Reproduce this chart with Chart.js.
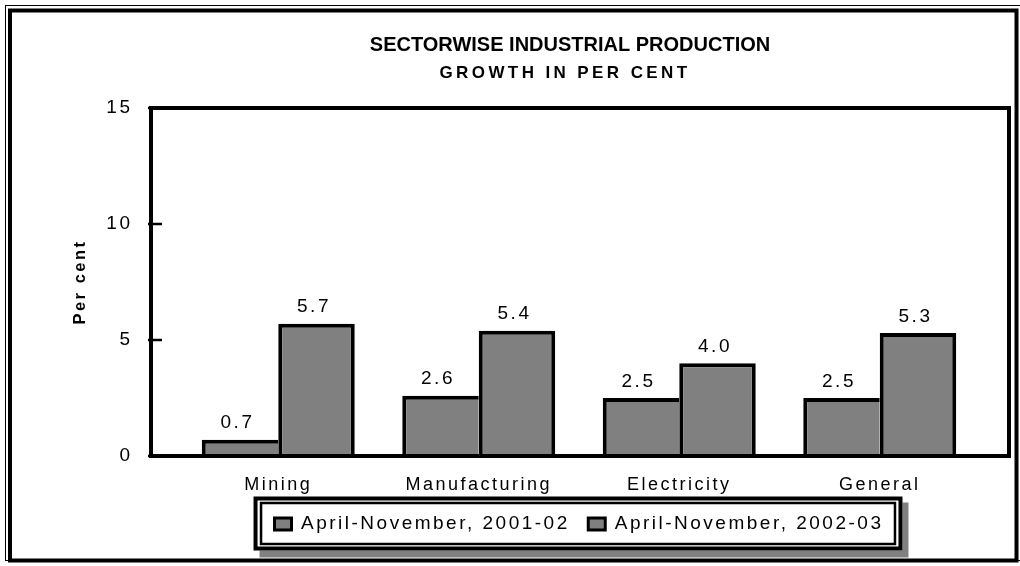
<!DOCTYPE html>
<html>
<head>
<meta charset="utf-8">
<title>Sectorwise Industrial Production</title>
<script src="https://cdn.jsdelivr.net/npm/chart.js@4.4.1/dist/chart.umd.min.js"></script>
<style>
  html, body { margin: 0; padding: 0; background: #fff; }
  #chart { display: block; }
</style>
</head>
<body>
<canvas id="chart" width="1020" height="566"></canvas>
<script>
const categories = ['Mining', 'Manufacturing', 'Electricity', 'General'];
const seriesLabels = ['April-November, 2001-02', 'April-November, 2002-03'];
const growth2001 = [0.7, 2.6, 2.5, 2.5];
const growth2002 = [5.7, 5.4, 4.0, 5.3];
const yTicks = [0, 5, 10, 15];

const titleText = 'SECTORWISE INDUSTRIAL PRODUCTION';
const subtitleText = 'GROWTH IN PER CENT';

const SANS = '"Liberation Sans", Arial, sans-serif';
const SPACING = '2.5px';

Chart.defaults.font.family = SANS;
Chart.defaults.color = '#000';

// title and subtitle get their own spacing and a small nudge left
const textStyles = {
	[titleText]: { spacing: '0px', shift: -9 },
	[subtitleText]: { spacing: '3.4px', shift: -14 }
};

// the old chart has wide letter spacing everywhere
const spacing = {
	id: 'spacing',
	beforeLayout(chart) { chart.ctx.letterSpacing = SPACING; },
	beforeDraw(chart) { chart.ctx.letterSpacing = SPACING; },
	afterLayout(chart) {
		chart.boxes.forEach(box => {
			const style = box.options && textStyles[box.options.text];
			if (!style || box._styled) return;
			const draw = box.draw;
			box.draw = function (area) {
				const ctx = this.ctx;
				ctx.save();
				ctx.letterSpacing = style.spacing;
				ctx.translate(style.shift, 0);
				draw.call(this, area);
				ctx.restore();
			};
			box._styled = true;
		});
	}
};

// page frame and legend frame with its shadow
const frames = {
	id: 'frames',
	beforeDraw(chart) {
		const { ctx, width, height } = chart;
		ctx.save();
		ctx.fillStyle = '#fff';
		ctx.fillRect(0, 0, width, height);
		ctx.strokeStyle = '#000';
		ctx.lineWidth = 1;
		ctx.strokeRect(5.5, 5.5, width + 10, height - 11);
		ctx.lineWidth = 4;
		ctx.strokeRect(10, 10.5, 1006.5, 550);

		const boxes = chart.legend && chart.legend.legendHitBoxes;
		if (boxes && boxes.length) {
			const first = boxes[0];
			const last = boxes[boxes.length - 1];
			const L = first.left - 21;
			const R = last.left + last.width + 19;
			const T = first.top - 18;
			const B = first.top + first.height + 17;
			ctx.fillStyle = '#808080';
			ctx.fillRect(L + 6, T + 6, R - L, B - T + 1);
			ctx.fillStyle = '#fff';
			ctx.fillRect(L, T, R - L, B - T);
			ctx.lineWidth = 4;
			ctx.strokeRect(L + 2, T + 2, R - L - 4, B - T - 4);
			ctx.lineWidth = 2.5;
			ctx.strokeRect(L + 7.5, T + 6.5, R - L - 15, B - T - 13);
		}
		ctx.restore();
	}
};

// plot box is wider than the category band, plus the short y tick marks
const plotBox = {
	id: 'plotBox',
	afterDatasetsDraw(chart) {
		const { ctx, chartArea: a, scales: { y } } = chart;
		const left = a.left - 27;
		const right = a.right + 29;
		ctx.save();
		ctx.strokeStyle = '#000';
		ctx.lineWidth = 4;
		ctx.strokeRect(left, a.top, right - left, a.bottom - a.top);
		ctx.lineWidth = 2.5;
		y.ticks.forEach(t => {
			const py = y.getPixelForValue(t.value);
			ctx.beginPath();
			ctx.moveTo(left - 3, py);
			ctx.lineTo(left + 11, py);
			ctx.stroke();
		});

		// value labels above bars
		ctx.font = '19px ' + SANS;
		ctx.fillStyle = '#000';
		ctx.textAlign = 'center';
		ctx.textBaseline = 'middle';
		chart.data.datasets.forEach((ds, i) => {
			chart.getDatasetMeta(i).data.forEach((bar, j) => {
				ctx.fillText(ds.data[j].toFixed(1), bar.x - 2.5, bar.y - 16.5);
			});
		});
		ctx.restore();
	}
};

const defaultLabels = Chart.defaults.plugins.legend.labels.generateLabels;

new Chart(document.getElementById('chart'), {
	type: 'bar',
	data: {
		labels: categories,
		datasets: [
			{
				label: seriesLabels[0],
				data: growth2001,
				backgroundColor: '#808080',
				borderColor: '#000',
				borderWidth: { top: 4, left: 4, right: 0, bottom: 0 },
				borderSkipped: false
			},
			{
				label: seriesLabels[1],
				data: growth2002,
				backgroundColor: '#808080',
				borderColor: '#000',
				borderWidth: { top: 4, left: 4, right: 4, bottom: 0 },
				borderSkipped: false
			}
		]
	},
	options: {
		responsive: false,
		devicePixelRatio: 1,
		animation: false,
		categoryPercentage: 0.763,
		barPercentage: 1.0,
		layout: { padding: { left: 0, right: 40, top: 0, bottom: 22.5 } },
		scales: {
			x: {
				grid: { display: false, drawTicks: false },
				border: { display: false },
				ticks: { padding: 18.7, font: { size: 18 } },
				afterFit: (s) => { s.height = 40; }
			},
			y: {
				min: 0,
				max: 15,
				grid: { display: false, drawTicks: false },
				border: { display: false },
				ticks: { padding: 45.5, font: { size: 19 } },
				afterBuildTicks: (s) => { s.ticks = yTicks.map(v => ({ value: v })); },
				afterFit: (s) => { s.width = 178; },
				title: {
					display: true,
					text: 'Per cent',
					font: { size: 16.5, weight: 'bold' },
					padding: { top: 70.1, bottom: 0 }
				}
			}
		},
		plugins: {
			title: {
				display: true,
				text: titleText,
				fullSize: false,
				font: { size: 20, weight: 'bold' },
				padding: { top: 33, bottom: 5.8 }
			},
			subtitle: {
				display: true,
				text: subtitleText,
				fullSize: false,
				font: { size: 17, weight: 'bold' },
				padding: { top: 0, bottom: 24.8 }
			},
			legend: {
				position: 'bottom',
				fullSize: false,
				labels: {
					boxWidth: 17,
					boxHeight: 12,
					padding: 18.5,
					font: { size: 19 },
					color: '#000',
					generateLabels: (chart) => defaultLabels(chart).map(l => ({ ...l, lineWidth: 3 }))
				}
			},
			tooltip: { enabled: false }
		}
	},
	plugins: [spacing, frames, plotBox]
});
</script>
</body>
</html>
